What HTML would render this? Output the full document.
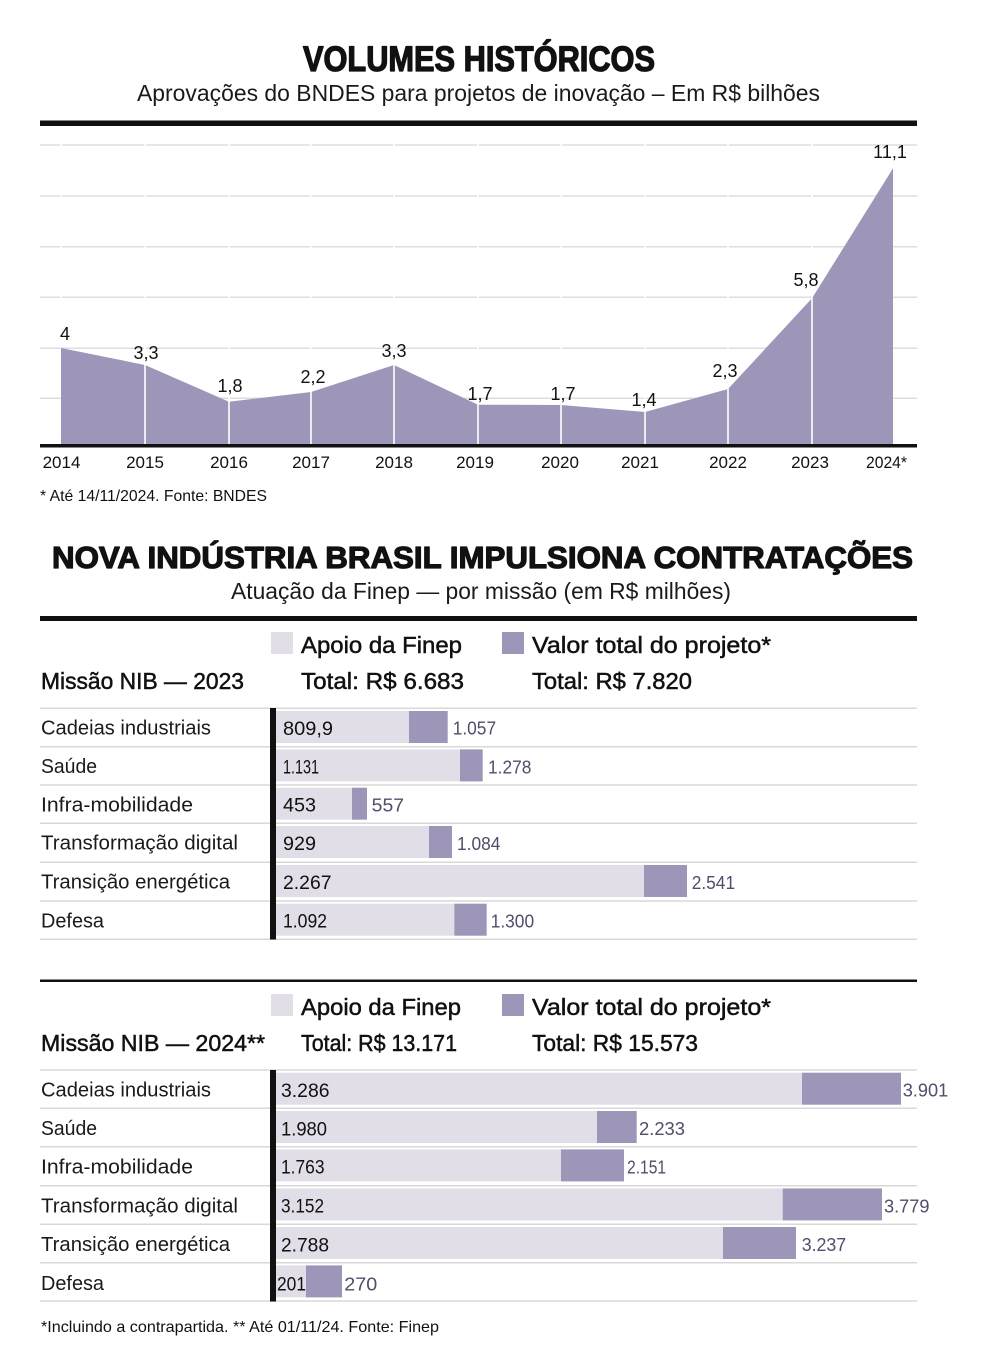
<!DOCTYPE html>
<html><head><meta charset="utf-8"><style>
html,body{margin:0;padding:0;background:#fff;}
svg{display:block;}
text{font-family:"Liberation Sans",sans-serif;}
</style></head><body>
<svg width="984" height="1365" viewBox="0 0 984 1365" xmlns="http://www.w3.org/2000/svg">
<rect width="984" height="1365" fill="#fff"/>

<!-- ===== Section 1 ===== -->
<text x="303" y="71" font-size="35" font-weight="bold" fill="#111" stroke="#111" stroke-width="1.3" stroke-linejoin="round" textLength="352" lengthAdjust="spacingAndGlyphs">VOLUMES HISTÓRICOS</text>
<text x="137" y="101" font-size="23" fill="#1a1a1a" textLength="683" lengthAdjust="spacingAndGlyphs">Aprovações do BNDES para projetos de inovação – Em R$ bilhões</text>
<rect x="40" y="120.5" width="877" height="5.5" fill="#111"/>

<!-- gridlines -->
<g stroke="#dedede" stroke-width="1.5">
<line x1="40" y1="145" x2="917" y2="145"/>
<line x1="40" y1="196" x2="917" y2="196"/>
<line x1="40" y1="246.7" x2="917" y2="246.7"/>
<line x1="40" y1="297.3" x2="917" y2="297.3"/>
<line x1="40" y1="348.3" x2="917" y2="348.3"/>
<line x1="40" y1="398.3" x2="917" y2="398.3"/>
</g>

<!-- area -->
<polygon fill="#9e96b9" points="61,446 61,348 145,365 229,401.7 311,392 394,365 478,404.7 561,405 645,412 728,389 812,298.3 893,168.3 893,446"/>

<!-- white separators -->
<g stroke="#fff" stroke-width="1.6">
<line x1="61" y1="140" x2="61" y2="346"/>
<line x1="145" y1="140" x2="145" y2="444"/>
<line x1="229" y1="140" x2="229" y2="444"/>
<line x1="311" y1="140" x2="311" y2="444"/>
<line x1="394" y1="140" x2="394" y2="444"/>
<line x1="478" y1="140" x2="478" y2="444"/>
<line x1="561" y1="140" x2="561" y2="444"/>
<line x1="645" y1="140" x2="645" y2="444"/>
<line x1="728" y1="140" x2="728" y2="444"/>
<line x1="812" y1="140" x2="812" y2="444"/>
</g>

<rect x="40" y="444" width="877" height="3.5" fill="#111"/>

<!-- data labels -->
<g font-size="18" fill="#111" text-anchor="middle">
<text x="65" y="340">4</text>
<text x="146" y="359">3,3</text>
<text x="230" y="392">1,8</text>
<text x="313" y="383">2,2</text>
<text x="394" y="357">3,3</text>
<text x="480" y="400">1,7</text>
<text x="563" y="400">1,7</text>
<text x="644" y="406">1,4</text>
<text x="725" y="377">2,3</text>
<text x="806" y="286">5,8</text>
<text x="890" y="158">11,1</text>
</g>

<!-- year labels -->
<g font-size="17" fill="#111" text-anchor="middle">
<text x="61.5" y="468">2014</text>
<text x="145" y="468">2015</text>
<text x="229" y="468">2016</text>
<text x="311" y="468">2017</text>
<text x="394" y="468">2018</text>
<text x="475" y="468">2019</text>
<text x="560" y="468">2020</text>
<text x="640" y="468">2021</text>
<text x="728" y="468">2022</text>
<text x="810" y="468">2023</text>
</g>
<text x="866" y="468" font-size="17" fill="#111" textLength="41" lengthAdjust="spacingAndGlyphs">2024*</text>

<text x="40" y="501" font-size="16" fill="#111" textLength="227" lengthAdjust="spacingAndGlyphs">* Até 14/11/2024. Fonte: BNDES</text>

<!-- ===== Section 2 ===== -->
<text x="52" y="568" font-size="30.5" font-weight="bold" fill="#111" stroke="#111" stroke-width="1.2" stroke-linejoin="round" textLength="861" lengthAdjust="spacingAndGlyphs">NOVA INDÚSTRIA BRASIL IMPULSIONA CONTRATAÇÕES</text>
<text x="231" y="599" font-size="23" fill="#1a1a1a" textLength="500" lengthAdjust="spacingAndGlyphs">Atuação da Finep — por missão (em R$ milhões)</text>
<rect x="40" y="616" width="877" height="5" fill="#111"/>

<!-- legend 2023 -->
<g font-size="23.5" fill="#111" stroke="#111" stroke-width="0.5">
<text x="301" y="653" textLength="161" lengthAdjust="spacingAndGlyphs">Apoio da Finep</text>
<text x="532" y="653" textLength="239" lengthAdjust="spacingAndGlyphs">Valor total do projeto*</text>
<text x="41" y="689" textLength="203" lengthAdjust="spacingAndGlyphs">Missão NIB — 2023</text>
<text x="301" y="689" textLength="163" lengthAdjust="spacingAndGlyphs">Total: R$ 6.683</text>
<text x="532" y="689" textLength="160" lengthAdjust="spacingAndGlyphs">Total: R$ 7.820</text>
</g>
<rect x="271" y="632" width="22" height="22" fill="#e1dee8"/>
<rect x="502" y="632" width="22" height="22" fill="#9e96b9"/>

<!-- rows 2023 -->
<g stroke="#d8d8d8" stroke-width="1.5">
<line x1="40" y1="708.3" x2="917" y2="708.3"/>
<line x1="40" y1="746.7" x2="917" y2="746.7"/>
<line x1="40" y1="785" x2="917" y2="785"/>
<line x1="40" y1="823.3" x2="917" y2="823.3"/>
<line x1="40" y1="862.3" x2="917" y2="862.3"/>
<line x1="40" y1="901" x2="917" y2="901"/>
<line x1="40" y1="939.3" x2="917" y2="939.3"/>
</g>
<g fill="#e1dee8">
<rect x="276" y="711" width="133" height="32"/>
<rect x="276" y="749.4" width="184" height="32"/>
<rect x="276" y="787.7" width="76" height="32"/>
<rect x="276" y="826" width="153" height="32"/>
<rect x="276" y="865" width="368" height="32"/>
<rect x="276" y="903.7" width="178.3" height="32"/>
</g>
<g fill="#9e96b9">
<rect x="409" y="711" width="38.7" height="32"/>
<rect x="460" y="749.4" width="22.7" height="32"/>
<rect x="352" y="787.7" width="15" height="32"/>
<rect x="429" y="826" width="23" height="32"/>
<rect x="644" y="865" width="43" height="32"/>
<rect x="454.3" y="903.7" width="32.4" height="32"/>
</g>
<rect x="270" y="708" width="6" height="231.5" fill="#111"/>

<g font-size="20" fill="#1a1a1a">
<text x="41" y="734.6" textLength="170" lengthAdjust="spacingAndGlyphs">Cadeias industriais</text>
<text x="41" y="773" textLength="56" lengthAdjust="spacingAndGlyphs">Saúde</text>
<text x="41" y="811.3" textLength="152" lengthAdjust="spacingAndGlyphs">Infra-mobilidade</text>
<text x="41" y="849.6" textLength="197" lengthAdjust="spacingAndGlyphs">Transformação digital</text>
<text x="41" y="888.6" textLength="189" lengthAdjust="spacingAndGlyphs">Transição energética</text>
<text x="41" y="927.3" textLength="63" lengthAdjust="spacingAndGlyphs">Defesa</text>
</g>
<g font-size="19" fill="#111">
<text x="283" y="735" textLength="50" lengthAdjust="spacingAndGlyphs">809,9</text>
<text x="283" y="773.4" textLength="36" lengthAdjust="spacingAndGlyphs">1.131</text>
<text x="283" y="811.7" textLength="33" lengthAdjust="spacingAndGlyphs">453</text>
<text x="283" y="850" textLength="33" lengthAdjust="spacingAndGlyphs">929</text>
<text x="283" y="889" textLength="48.5" lengthAdjust="spacingAndGlyphs">2.267</text>
<text x="283" y="927.7" textLength="44" lengthAdjust="spacingAndGlyphs">1.092</text>
</g>
<g font-size="18.5" fill="#524d6a">
<text x="452.7" y="734.6" textLength="43.4" lengthAdjust="spacingAndGlyphs">1.057</text>
<text x="488" y="773.4" textLength="43.4" lengthAdjust="spacingAndGlyphs">1.278</text>
<text x="371.7" y="811.3" textLength="32.4" lengthAdjust="spacingAndGlyphs">557</text>
<text x="457" y="849.8" textLength="43.4" lengthAdjust="spacingAndGlyphs">1.084</text>
<text x="691.7" y="888.8" textLength="43.4" lengthAdjust="spacingAndGlyphs">2.541</text>
<text x="490.7" y="927.5" textLength="43.4" lengthAdjust="spacingAndGlyphs">1.300</text>
</g>

<!-- ===== 2024 block ===== -->
<rect x="40" y="979.5" width="877" height="2.5" fill="#111"/>
<rect x="271" y="994" width="22" height="22" fill="#e1dee8"/>
<rect x="502" y="994" width="22" height="22" fill="#9e96b9"/>
<g font-size="23.5" fill="#111" stroke="#111" stroke-width="0.5">
<text x="301" y="1015" textLength="160" lengthAdjust="spacingAndGlyphs">Apoio da Finep</text>
<text x="532" y="1015" textLength="239" lengthAdjust="spacingAndGlyphs">Valor total do projeto*</text>
<text x="41" y="1051" textLength="224" lengthAdjust="spacingAndGlyphs">Missão NIB — 2024**</text>
<text x="301" y="1051" textLength="156" lengthAdjust="spacingAndGlyphs">Total: R$ 13.171</text>
<text x="532" y="1051" textLength="166" lengthAdjust="spacingAndGlyphs">Total: R$ 15.573</text>
</g>

<g stroke="#d8d8d8" stroke-width="1.5">
<line x1="40" y1="1070" x2="917" y2="1070"/>
<line x1="40" y1="1108.3" x2="917" y2="1108.3"/>
<line x1="40" y1="1146.7" x2="917" y2="1146.7"/>
<line x1="40" y1="1185.7" x2="917" y2="1185.7"/>
<line x1="40" y1="1224.3" x2="917" y2="1224.3"/>
<line x1="40" y1="1262.7" x2="917" y2="1262.7"/>
<line x1="40" y1="1301" x2="917" y2="1301"/>
</g>
<g fill="#e1dee8">
<rect x="276" y="1072.7" width="526" height="32"/>
<rect x="276" y="1111" width="321" height="32"/>
<rect x="276" y="1149.4" width="285" height="32"/>
<rect x="276" y="1188.4" width="506.7" height="32"/>
<rect x="276" y="1227" width="447" height="32"/>
<rect x="276" y="1265.4" width="30" height="32"/>
</g>
<g fill="#9e96b9">
<rect x="802" y="1072.7" width="99" height="32"/>
<rect x="597" y="1111" width="39.7" height="32"/>
<rect x="561" y="1149.4" width="63" height="32"/>
<rect x="782.7" y="1188.4" width="99.3" height="32"/>
<rect x="723" y="1227" width="73" height="32"/>
<rect x="306" y="1265.4" width="36" height="32"/>
</g>
<rect x="270" y="1070" width="6" height="231.5" fill="#111"/>

<g font-size="20" fill="#1a1a1a">
<text x="41" y="1096.5" textLength="170" lengthAdjust="spacingAndGlyphs">Cadeias industriais</text>
<text x="41" y="1135" textLength="56" lengthAdjust="spacingAndGlyphs">Saúde</text>
<text x="41" y="1173.3" textLength="152" lengthAdjust="spacingAndGlyphs">Infra-mobilidade</text>
<text x="41" y="1212.3" textLength="197" lengthAdjust="spacingAndGlyphs">Transformação digital</text>
<text x="41" y="1251" textLength="189" lengthAdjust="spacingAndGlyphs">Transição energética</text>
<text x="41" y="1290" textLength="63" lengthAdjust="spacingAndGlyphs">Defesa</text>
</g>
<g font-size="19" fill="#111">
<text x="281" y="1097" textLength="48.5" lengthAdjust="spacingAndGlyphs">3.286</text>
<text x="281" y="1135.4" textLength="46" lengthAdjust="spacingAndGlyphs">1.980</text>
<text x="281" y="1173.7" textLength="43.5" lengthAdjust="spacingAndGlyphs">1.763</text>
<text x="281" y="1212.7" textLength="43" lengthAdjust="spacingAndGlyphs">3.152</text>
<text x="281" y="1251.4" textLength="48" lengthAdjust="spacingAndGlyphs">2.788</text>
<text x="277" y="1290.4" textLength="29" lengthAdjust="spacingAndGlyphs">201</text>
</g>
<g font-size="18.5" fill="#524d6a">
<text x="902.7" y="1096.7" textLength="45.5" lengthAdjust="spacingAndGlyphs">3.901</text>
<text x="639" y="1135" textLength="46" lengthAdjust="spacingAndGlyphs">2.233</text>
<text x="627" y="1173.4" textLength="39.1" lengthAdjust="spacingAndGlyphs">2.151</text>
<text x="884" y="1212.4" textLength="45.5" lengthAdjust="spacingAndGlyphs">3.779</text>
<text x="801.7" y="1251" textLength="44.5" lengthAdjust="spacingAndGlyphs">3.237</text>
<text x="344.3" y="1290.4" textLength="33" lengthAdjust="spacingAndGlyphs">270</text>
</g>

<text x="41" y="1332" font-size="16" fill="#111" textLength="398" lengthAdjust="spacingAndGlyphs">*Incluindo a contrapartida. ** Até 01/11/24. Fonte: Finep</text>
</svg>
</body></html>
